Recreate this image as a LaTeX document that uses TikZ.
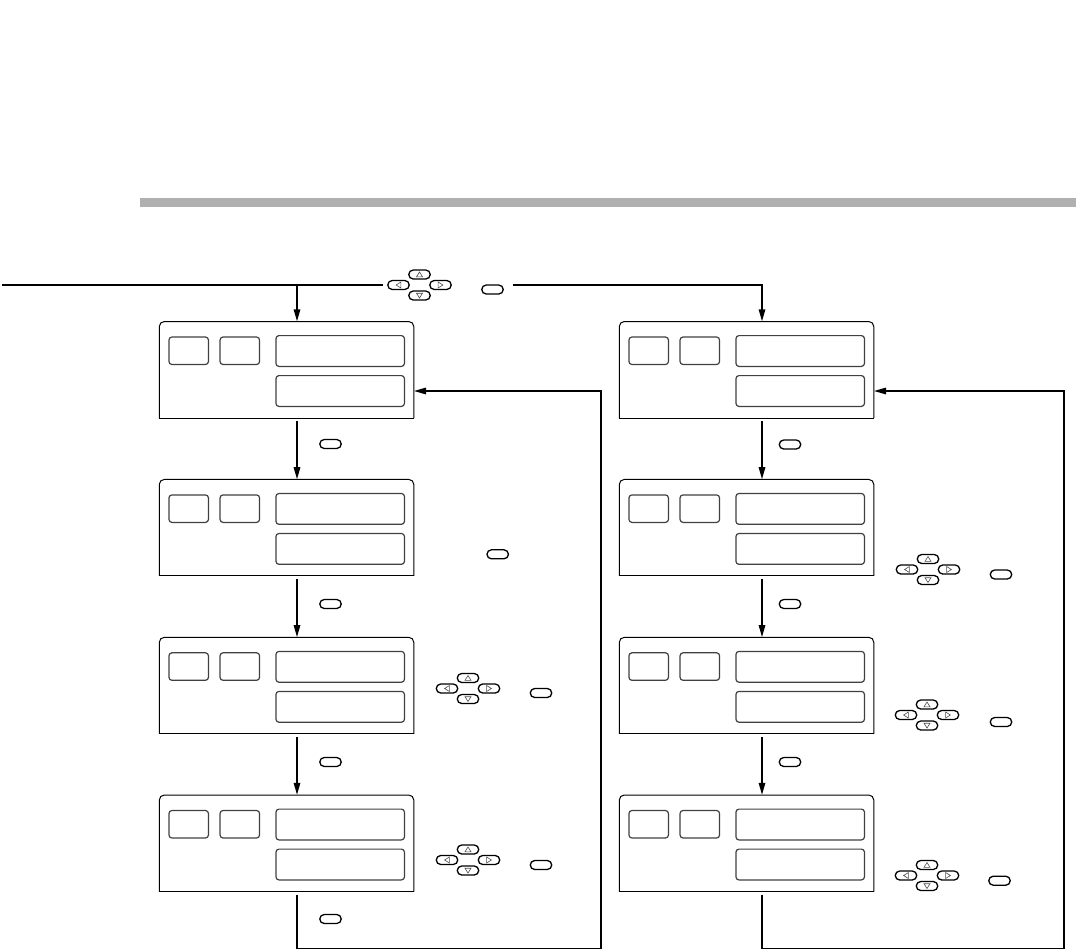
\documentclass[tikz,border=0pt]{standalone}
\usetikzlibrary{arrows.meta,calc}
\begin{document}
\begin{tikzpicture}[x=1pt,y=-1pt,
  conn/.style={line width=1.5pt, draw=black},
  arr/.style={conn, -{Triangle[length=12pt,width=6.5pt]}},
  framebox/.style={minimum width=254.5pt, minimum height=96.5pt, inner sep=0pt, draw=none},
  frameline/.style={line width=1pt, draw=black},
  seg/.style={draw=black!75, line width=1.2pt, rounded corners=3pt, inner sep=0pt},
  key/.style={draw=black, line width=1.3pt, rounded corners=4.5pt, minimum width=21.5pt, minimum height=9pt, inner sep=0pt},
  tri/.style={draw=black!70, line width=0.6pt},
  panel/.pic={
    \node[framebox] (-frame) at (127.25,48.25) {};
    \draw[frameline, rounded corners=5pt] (0,96.5) -- (0,0) -- (254.5,0) -- (254.5,96.5);
    \draw[frameline] (0,96.5) -- (254.5,96.5);
    \node[seg, minimum width=39.5pt, minimum height=27.5pt] (-s1) at (29.4,29.25) {};
    \node[seg, minimum width=39.5pt, minimum height=27.5pt] (-s2) at (80.5,29.25) {};
    \node[seg, minimum width=128.5pt, minimum height=30.8pt] (-top) at (180.9,29.5) {};
    \node[seg, minimum width=128.5pt, minimum height=30.8pt] (-bot) at (180.9,69.5) {};
  },
  keypad/.pic={
    \node[key] (-u) at (0,-10.5) {};
    \node[key] (-d) at (0,10.5) {};
    \node[key] (-l) at (-21,0) {};
    \node[key] (-r) at (21,0) {};
    \draw[tri] (-3,-8.2) -- (3,-8.2) -- (0,-13) -- cycle;
    \draw[tri] (-3,8.2) -- (3,8.2) -- (0,13) -- cycle;
    \draw[tri] (-18.6,-3) -- (-18.6,3) -- (-23.4,0) -- cycle;
    \draw[tri] (18.6,-3) -- (18.6,3) -- (23.4,0) -- cycle;
  }
]
\useasboundingbox (0,0) rectangle (1076,951);

% grey rule
\fill[fill={rgb,255:red,176;green,176;blue,176}] (140,198) rectangle (1076,207);

% panels
\pic (p1) at (159.3,321.5) {panel};
\pic (p2) at (159.3,479.4) {panel};
\pic (p3) at (159.3,637.3) {panel};
\pic (p4) at (159.3,795.0) {panel};
\pic (q1) at (619.3,321.5) {panel};
\pic (q2) at (619.3,479.4) {panel};
\pic (q3) at (619.3,637.3) {panel};
\pic (q4) at (619.3,795.0) {panel};

% top keys
\coordinate (st) at (2,285);
\coordinate (ax) at (297,285);
\coordinate (bx) at (762,285);
\pic (kt) at (419.5,285) {keypad};
\node[key] (ot) at (492.5,289.5) {};

% step keys, left column
\node[key] (o1) at (330.5,444) {};
\node[key] (o2) at (330.5,604) {};
\node[key] (o3) at (330.5,762) {};
\node[key] (o4) at (330.5,919) {};
\node[key] (os2) at (497.7,554.3) {};
\pic (k3) at (468,688.5) {keypad};
\node[key] (os3) at (541,693) {};
\pic (k4) at (468,860) {keypad};
\node[key] (os4) at (541,865) {};

% step keys, right column
\node[key] (r1) at (790,444.5) {};
\node[key] (r2) at (790,604) {};
\node[key] (r3) at (790,762) {};
\pic (m2) at (928,569.5) {keypad};
\node[key] (rs2) at (1001,574.5) {};
\pic (m3) at (927,715) {keypad};
\node[key] (rs3) at (1001,722) {};
\pic (m4) at (927,875.5) {keypad};
\node[key] (rs4) at (999.5,880.7) {};

% top connector
\draw[conn] (st) -- ($(st -| kt-l.west)+(-4,0)$);
\draw[arr] (ax) -- (ax |- p1-frame.north);
\draw[arr] ($(st -| ot.east)+(9,0)$) -| (bx |- q1-frame.north);

% left column
\draw[arr, shorten <=3pt] (ax |- p1-frame.south) -- (ax |- p2-frame.north);
\draw[arr, shorten <=3pt] (ax |- p2-frame.south) -- (ax |- p3-frame.north);
\draw[arr, shorten <=3pt] (ax |- p3-frame.south) -- (ax |- p4-frame.north);
\coordinate (lc) at (601,948.5);
\draw[arr, shorten <=3pt] (ax |- p4-frame.south) |- (lc) |- (p1-frame.east |- p1-bot.east);

% right column
\draw[arr, shorten <=3pt] (bx |- q1-frame.south) -- (bx |- q2-frame.north);
\draw[arr, shorten <=3pt] (bx |- q2-frame.south) -- (bx |- q3-frame.north);
\draw[arr, shorten <=3pt] (bx |- q3-frame.south) -- (bx |- q4-frame.north);
\coordinate (rc) at (1064,948.5);
\draw[arr, shorten <=3pt] (bx |- q4-frame.south) |- (rc) |- (q1-frame.east |- q1-bot.east);
\end{tikzpicture}
\end{document}
